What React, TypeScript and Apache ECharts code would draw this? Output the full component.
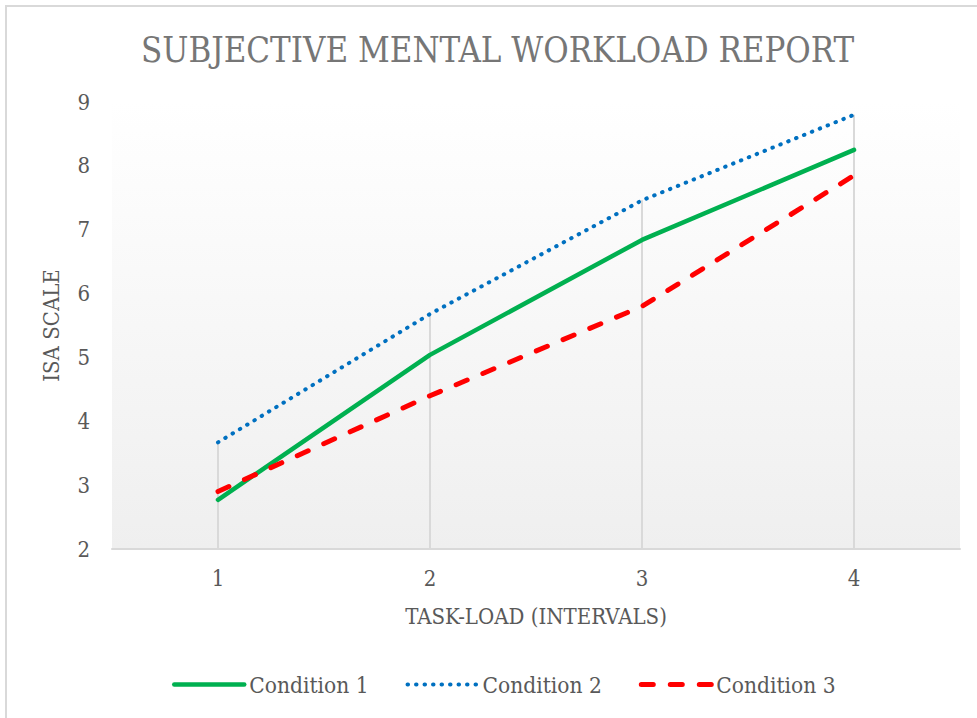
import React, { useEffect, useRef } from "react";
import * as echarts from "echarts";

const categories = ["1", "2", "3", "4"];
const condition1 = [2.77, 5.04, 6.84, 8.25];
const condition2 = [3.67, 5.68, 7.46, 8.8];
const condition3 = [2.9, 4.4, 5.8, 7.85];
const yTicks = { min: 2, max: 9, interval: 1 };

const FONT = "'DejaVu Serif Condensed', 'Liberation Serif', serif";

export default function App() {
  const ref = useRef<HTMLDivElement>(null);
  useEffect(() => {
    if (!ref.current) return;
    const chart = echarts.init(ref.current, null, { renderer: "svg" });
    const dropValues = categories.map((_, i) =>
      Math.max(condition1[i], condition2[i], condition3[i])
    );
    chart.setOption({
      animation: false,
      backgroundColor: "#ffffff",
      textStyle: { fontFamily: FONT },
      title: {
        text: "SUBJECTIVE MENTAL WORKLOAD REPORT",
        left: 136,
        top: 27,
        textStyle: {
          fontFamily: FONT,
          fontSize: 34.5,
          fontWeight: "normal",
          color: "#767676",
        },
      },
      graphic: [
        {
          type: "rect",
          z: -10,
          silent: true,
          shape: { x: 6, y: 6, width: 1000, height: 1000 },
          style: { fill: "none", stroke: "#d9d9d9", lineWidth: 2 },
        },
      ],
      legend: {
        data: ["Condition 1", "Condition 2", "Condition 3"],
        bottom: 17,
        left: 167,
        itemWidth: 70,
        itemHeight: 14,
        itemGap: 37,
        itemStyle: { opacity: 0, borderWidth: 0 },
        lineStyle: { width: "inherit" },
        textStyle: { fontFamily: FONT, fontSize: 22.5, color: "#595959" },
      },
      grid: {
        left: 112,
        right: 17,
        top: 102,
        bottom: 169,
        show: true,
        borderWidth: 0,
        backgroundColor: new echarts.graphic.LinearGradient(0, 0, 0, 1, [
          { offset: 0, color: "#ffffff" },
          { offset: 1, color: "#efefef" },
        ]),
      },
      xAxis: {
        type: "category",
        data: categories,
        boundaryGap: true,
        name: "TASK-LOAD (INTERVALS)",
        nameLocation: "middle",
        nameGap: 56,
        nameTextStyle: { fontFamily: FONT, fontSize: 22, color: "#595959" },
        axisLine: { show: true, lineStyle: { color: "#d9d9d9", width: 2 } },
        axisTick: { show: false },
        axisLabel: { margin: 18, fontFamily: FONT, fontSize: 22, color: "#595959" },
        splitLine: { show: false },
      },
      yAxis: {
        type: "value",
        min: yTicks.min,
        max: yTicks.max,
        interval: yTicks.interval,
        name: "ISA SCALE",
        nameLocation: "middle",
        nameGap: 50,
        nameTextStyle: { fontFamily: FONT, fontSize: 22, color: "#595959" },
        axisLine: { show: false },
        axisTick: { show: false },
        axisLabel: { margin: 22, fontFamily: FONT, fontSize: 22, color: "#595959" },
        splitLine: { show: false },
      },
      series: [
        {
          name: "drop",
          type: "bar",
          data: dropValues,
          barWidth: 2,
          silent: true,
          z: 1,
          itemStyle: { color: "#d9d9d9" },
        },
        {
          name: "Condition 1",
          type: "line",
          data: condition1,
          symbol: "none",
          z: 3,
          lineStyle: { color: "#00b050", width: 4.5, cap: "round" },
          itemStyle: { color: "#00b050" },
        },
        {
          name: "Condition 2",
          type: "line",
          data: condition2,
          symbol: "none",
          z: 3,
          lineStyle: {
            color: "#0070c0",
            width: 4,
            type: [0.5, 8],
            cap: "round",
          },
          itemStyle: { color: "#0070c0" },
        },
        {
          name: "Condition 3",
          type: "line",
          data: condition3,
          symbol: "none",
          z: 3,
          lineStyle: {
            color: "#ff0000",
            width: 5,
            type: [12, 17],
            cap: "round",
          },
          itemStyle: { color: "#ff0000" },
        },
      ],
    });
    return () => chart.dispose();
  }, []);
  return (
    <div
      ref={ref}
      style={{ position: "absolute", left: 0, top: 0, width: 977, height: 718 }}
    />
  );
}
